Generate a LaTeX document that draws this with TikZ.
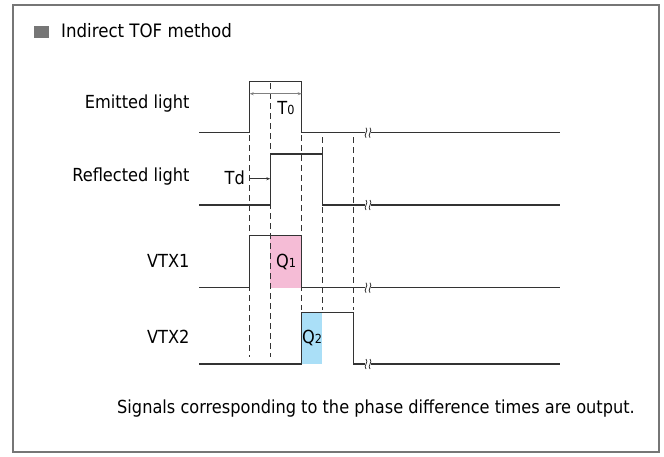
\documentclass[tikz,border=0pt]{standalone}
\usepackage{fontspec}
\setmainfont{DejaVu Sans Condensed}
\usepackage{xcolor}
\usetikzlibrary{arrows.meta, positioning, calc}
\definecolor{framegray}{HTML}{767676}
\definecolor{wavegray}{HTML}{333333}
\definecolor{qpink}{HTML}{F5BCD6}
\definecolor{qblue}{HTML}{AADFF7}
\tikzset{
  frame/.style   = {draw=framegray, line width=1.5pt},
  wave/.style    = {draw=wavegray, line width=1.3pt, line join=miter},
  guide/.style   = {draw=wavegray, line width=0.9pt, dash pattern=on 6pt off 4pt},
  widtharrow/.style = {draw=gray, line width=1pt, {Stealth[length=4pt,width=3pt]}-{Stealth[length=4pt,width=3pt]}},
  delayarrow/.style = {draw=wavegray, line width=0.8pt, -{Stealth[length=4pt,width=3pt]}},
  sig/.style     = {anchor=east, font=\fontsize{18}{21}\selectfont},
  lbl/.style     = {inner sep=0pt, font=\fontsize{18}{21}\selectfont},
  brk/.style     = {draw=wavegray, line width=0.8pt},
}
\newcommand{\smalldigit}[1]{{\fontsize{12.5}{12.5}\selectfont #1}}

\begin{document}
\begin{tikzpicture}[x=1pt, y=-1pt]
  \useasboundingbox (0,0) rectangle (664,456);
  \draw[frame] (13,5) rectangle (659,452);

  % title
  \fill[framegray] (34,26.2) rectangle (48.5,37.5);
  \node[lbl, anchor=west, font=\fontsize{18.5}{21}\selectfont] (title) at (61,31) {Indirect TOF method};

  % time marks
  \coordinate (ta) at (249.7,0);
  \coordinate (tb) at (270.3,0);
  \coordinate (tc) at (301.7,0);
  \coordinate (td) at (322.3,0);
  \coordinate (te) at (353.7,0);

  % charge areas
  \fill[qpink] (270.3,235.7) rectangle (301.7,287.7);
  \fill[qblue] (301.7,312.7) rectangle (322.3,364);

  % guides
  \draw[guide] (249.7,135) -- (249.7,357);
  \draw[guide] (270.3,83)  -- (270.3,357);
  \draw[guide] (301.7,135) -- (301.7,310);
  \draw[guide] (322.3,137) -- (322.3,310);
  \draw[guide] (353.7,137) -- (353.7,310);

  % signal names
  \node[sig] (emit) at (193,104) {Emitted light};
  \node[sig] (refl) at (193,177) {Reflected light};
  \node[sig] (vtxa) at (193,261) {VTX1};
  \node[sig] (vtxb) at (193,337) {VTX2};

  % waveforms
  \draw[wave] (199,132.7) -- (249.7,132.7) -- (249.7,81.7) -- (301.7,81.7)
    -- (301.7,132.7) -- (365,132.7) (371,132.7) -- (560,132.7);
  \draw[wave] (199,205) -- (270.3,205) -- (270.3,154) -- (322.3,154)
    -- (322.3,205) -- (365,205) (371,205) -- (560,205);
  \draw[wave] (199,287.7) -- (249.7,287.7) -- (249.7,235.7) -- (301.7,235.7)
    -- (301.7,287.7) -- (365,287.7) (371,287.7) -- (560,287.7);
  \draw[wave] (199,364) -- (301.7,364) -- (301.7,312.7) -- (353.7,312.7)
    -- (353.7,364) -- (365,364) (371,364) -- (560,364);

  % break marks
  \draw[brk] (366,127.7) .. controls (369,131) and (363,134.5) .. (366,137.7)
             (370,127.7) .. controls (373,131) and (367,134.5) .. (370,137.7);
  \draw[brk] (366,200) .. controls (369,203.3) and (363,206.8) .. (366,210)
             (370,200) .. controls (373,203.3) and (367,206.8) .. (370,210);
  \draw[brk] (366,282.7) .. controls (369,286) and (363,289.5) .. (366,292.7)
             (370,282.7) .. controls (373,286) and (367,289.5) .. (370,292.7);
  \draw[brk] (366,359) .. controls (369,362.3) and (363,365.8) .. (366,369)
             (370,359) .. controls (373,362.3) and (367,365.8) .. (370,369);

  % T0 and Td
  \coordinate (spanl) at (ta |- 0,93.7);
  \coordinate (spanr) at (tc |- 0,93.7);
  \draw[widtharrow] (spanl) -- (spanr);
  \node[lbl] (tzero) at (286,108) {T\smalldigit{0}};
  \coordinate (delayl) at (ta |- 0,178.7);
  \coordinate (delayr) at (tb |- 0,178.7);
  \draw[delayarrow] (delayl) -- (delayr);
  \node[lbl, anchor=east] (tdel) at (245,178) {Td};

  % charges
  \node[lbl] (qa) at (286,262) {Q\smalldigit{1}};
  \node[lbl] (qb) at (312,338) {Q\smalldigit{2}};

  % note
  \node[lbl, anchor=west] (note) at (117,409)
    {Signals corresponding to the phase difference times are output.};
\end{tikzpicture}
\end{document}
